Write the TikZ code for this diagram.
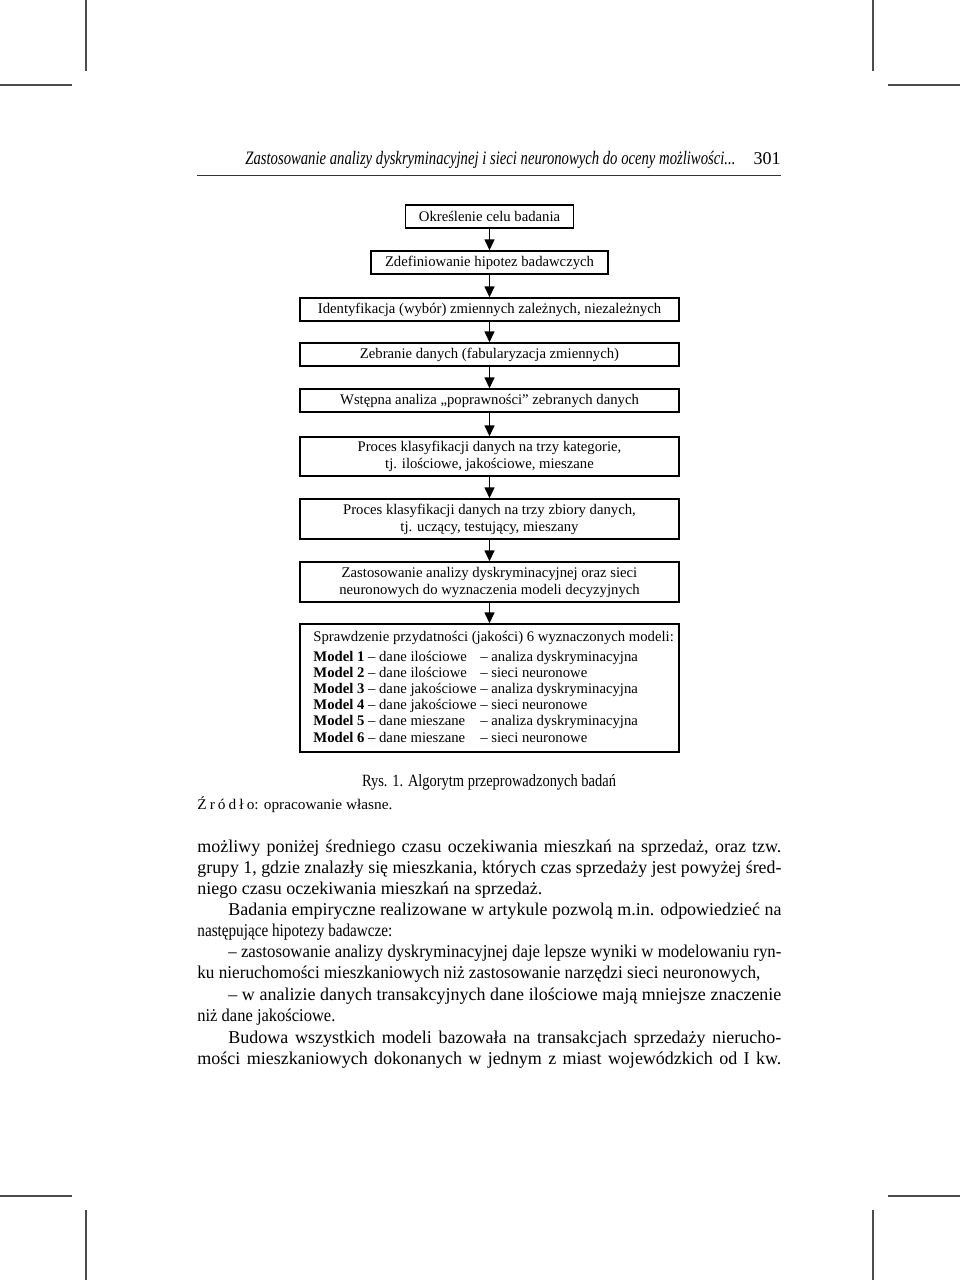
\documentclass[tikz,border=0pt]{standalone}
\usepackage{fontspec}
\setmainfont{Liberation Serif}
\usepackage{graphicx}
\usetikzlibrary{arrows.meta}
\newsavebox\linebox
\newcommand\jline[2]{\sbox\linebox{#2}\ifdim\wd\linebox>#1\relax\resizebox{#1}{\height}{\usebox\linebox}\else\makebox[#1][s]{#2}\fi}
\newcommand\fitw[2]{\resizebox{#1}{\height}{#2}}
\begin{document}
\begin{tikzpicture}[x=0.5pt,y=-0.5pt,
  box/.style={draw, line width=0.7pt, inner sep=0pt, align=center,
    font=\fontsize{7.35pt}{8.5pt}\selectfont},
  arr/.style={line width=0.7pt, -{Triangle[length=5.5pt,width=5pt]}},
  body/.style={anchor=base west, inner sep=0pt, font=\fontsize{9pt}{10.7pt}\selectfont},
  cropline/.style={line width=0.6pt, black!70},
  rule/.style={line width=0.5pt, black!80}]
\useasboundingbox (0,0) rectangle (960,1280);
% crop marks
\draw[cropline] (86,0) -- (86,71);
\draw[cropline] (0,85) -- (72,85);
\draw[cropline] (873,0) -- (873,71);
\draw[cropline] (888,85) -- (960,85);
\draw[cropline] (0,1196) -- (72,1196);
\draw[cropline] (888,1196) -- (960,1196);
\draw[cropline] (86,1210) -- (86,1280);
\draw[cropline] (873,1210) -- (873,1280);
% running head
\node[anchor=base west, inner sep=0pt, font=\fontsize{9.5pt}{11pt}\selectfont] (head) at (245,164)
  {\fitw{245pt}{\itshape Zastosowanie analizy dyskryminacyjnej i sieci neuronowych do oceny możliwości...}};
\node[anchor=base east, inner sep=0pt, font=\fontsize{9pt}{11pt}\selectfont] (page) at (781,164) {301};
\draw[rule] (197,175) -- (781,175);
% flowchart
\node[box, minimum width=84pt, minimum height=11.5pt] (b1) at (489.5,216.5) {Określenie celu badania};
\node[box, minimum width=118.5pt, minimum height=11.5pt] (b2) at (489.5,262.5) {Zdefiniowanie hipotez badawczych};
\node[box, minimum width=189.5pt, minimum height=11.5pt] (b3) at (489.5,309.5) {Identyfikacja (wybór) zmiennych zależnych, niezależnych};
\node[box, minimum width=189.5pt, minimum height=11.5pt] (b4) at (489.5,354.5) {Zebranie danych (fabularyzacja zmiennych)};
\node[box, minimum width=189.5pt, minimum height=11.5pt] (b5) at (489.5,400.5) {Wstępna analiza „poprawności” zebranych danych};
\node[box, minimum width=189.5pt, minimum height=19.5pt] (b6) at (489.5,456.5) {Proces klasyfikacji danych na trzy kategorie,\\tj. ilościowe, jakościowe, mieszane};
\node[box, minimum width=189.5pt, minimum height=20pt] (b7) at (489.5,519) {Proces klasyfikacji danych na trzy zbiory danych,\\tj. uczący, testujący, mieszany};
\node[box, minimum width=189.5pt, minimum height=20pt] (b8) at (489.5,582) {Zastosowanie analizy dyskryminacyjnej oraz sieci\\neuronowych do wyznaczenia modeli decyzyjnych};
\node[box, minimum width=189.5pt, minimum height=64pt] (b9) at (489.5,688) {};
\node[anchor=base west, inner sep=0pt, font=\fontsize{7.35pt}{8.1pt}\selectfont] (t9) at (313,641)
  {\begin{tabular}[t]{@{}l@{ }l@{ }l@{}}
  \multicolumn{3}{@{}l@{}}{Sprawdzenie przydatności (jakości) 6 wyznaczonych modeli:}\\[1.9pt]
  \textbf{Model 1} & – dane ilościowe & – analiza dyskryminacyjna\\
  \textbf{Model 2} & – dane ilościowe & – sieci neuronowe\\
  \textbf{Model 3} & – dane jakościowe & – analiza dyskryminacyjna\\
  \textbf{Model 4} & – dane jakościowe & – sieci neuronowe\\
  \textbf{Model 5} & – dane mieszane & – analiza dyskryminacyjna\\
  \textbf{Model 6} & – dane mieszane & – sieci neuronowe
  \end{tabular}};
\foreach \a/\b in {b1/b2,b2/b3,b3/b4,b4/b5,b5/b6,b6/b7,b7/b8,b8/b9}
  \draw[arr] (\a.south) -- (\b.north);
% caption and source
\node[anchor=base, inner sep=0pt, font=\fontsize{8.6pt}{10pt}\selectfont] (cap) at (489,786)
  {\fitw{127pt}{Rys. 1. Algorytm przeprowadzonych badań}};
\node[anchor=base west, inner sep=0pt, font=\fontsize{7.4pt}{9pt}\selectfont] (src) at (197,809)
  {\fitw{97.5pt}{{\spaceskip=0.2em Ź r ó d ł o}: opracowanie własne.}};
% body text
\node[body] (l1) at (197,852) {\jline{292pt}{możliwy poniżej średniego czasu oczekiwania mieszkań na sprzedaż, oraz tzw.}};
\node[body] (l2) at (197,873) {\jline{292pt}{grupy 1, gdzie znalazły się mieszkania, których czas sprzedaży jest powyżej śred-}};
\node[body] (l3) at (197,894) {niego czasu oczekiwania mieszkań na sprzedaż.};
\node[body] (l4) at (228,915) {\jline{276.5pt}{Badania empiryczne realizowane w artykule pozwolą m.in. odpowiedzieć na}};
\node[body] (l5) at (197,936) {\fitw{97.5pt}{następujące hipotezy badawcze:}};
\node[body] (l6) at (228,957) {\jline{276.5pt}{– zastosowanie analizy dyskryminacyjnej daje lepsze wyniki w modelowaniu ryn-}};
\node[body] (l7) at (197,978) {\fitw{281.5pt}{ku nieruchomości mieszkaniowych niż zastosowanie narzędzi sieci neuronowych,}};
\node[body] (l8) at (228,1000) {\jline{276.5pt}{– w analizie danych transakcyjnych dane ilościowe mają mniejsze znaczenie}};
\node[body] (l9) at (197,1021) {\fitw{69pt}{niż dane jakościowe.}};
\node[body] (l10) at (228,1043) {\jline{276.5pt}{Budowa wszystkich modeli bazowała na transakcjach sprzedaży nierucho-}};
\node[body] (l11) at (197,1064) {\jline{292pt}{mości mieszkaniowych dokonanych w jednym z miast wojewódzkich od I kw.}};
\end{tikzpicture}
\end{document}
